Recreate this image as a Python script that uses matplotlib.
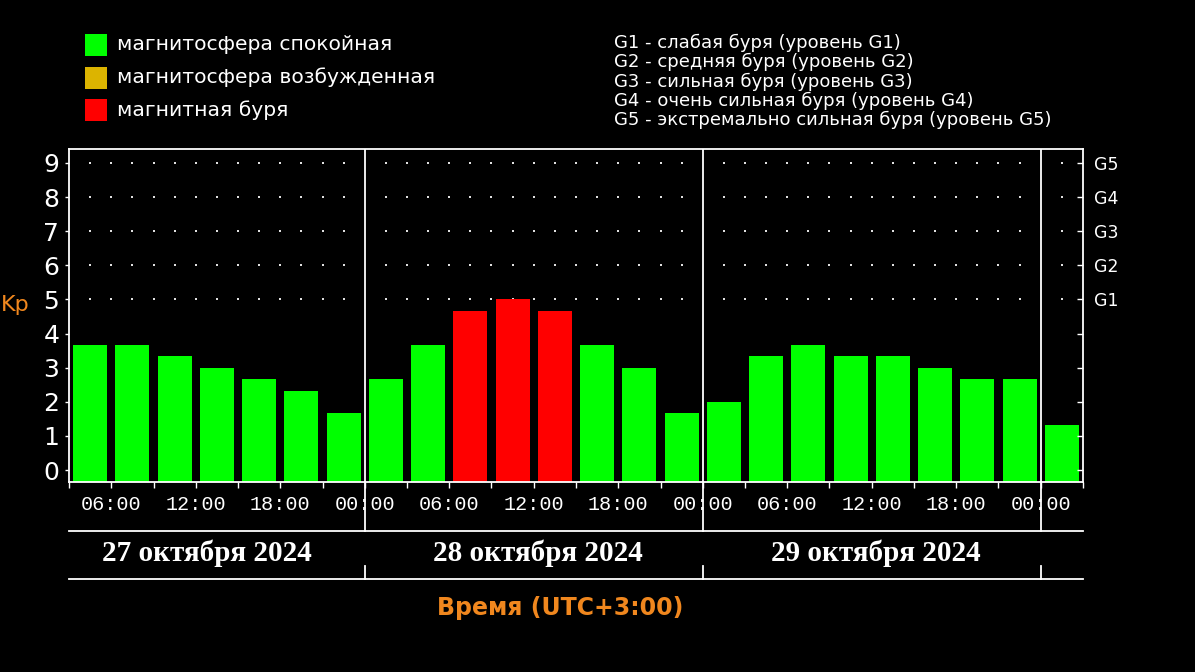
import numpy as np
import matplotlib
matplotlib.use("Agg")
import matplotlib.pyplot as plt
from matplotlib.patches import Rectangle
from matplotlib.lines import Line2D

# Kp index, 3-hour intervals, from 27.10.2024 03:00 (UTC+3)
kp_27 = [3.67, 3.67, 3.33, 3.0, 2.67, 2.33, 1.67]
kp_28 = [2.67, 3.67, 4.67, 5.0, 4.67, 3.67, 3.0, 1.67]
kp_29 = [2.0, 3.33, 3.67, 3.33, 3.33, 3.0, 2.67, 2.67]
kp_30 = [1.33]
kp = kp_27 + kp_28 + kp_29 + kp_30

days = ["27 октября 2024", "28 октября 2024", "29 октября 2024"]
hour_labels = ["06:00", "12:00", "18:00", "00:00"]
g_labels = ["G1", "G2", "G3", "G4", "G5"]
legend_items = ["магнитосфера спокойная", "магнитосфера возбужденная", "магнитная буря"]
legend_colors = ["#00ff00", "#dcb400", "#ff0000"]
g_text = ["G1 - слабая буря (уровень G1)",
          "G2 - средняя буря (уровень G2)",
          "G3 - сильная буря (уровень G3)",
          "G4 - очень сильная буря (уровень G4)",
          "G5 - экстремально сильная буря (уровень G5)"]

W, H = 1195, 672
ORANGE = "#f0871e"
t0 = 3      # first hour shown
t1 = 75     # last hour shown
ymin, ymax = -0.35, 9.41


def fx(px):
    return px / W


def fy(py):
    return 1 - py / H


fig = plt.figure(figsize=(W / 100, H / 100), dpi=100, facecolor="black")
ax = fig.add_axes([fx(69), fy(482), fx(1083) - fx(69), fy(149) - fy(482)])
ax.set_facecolor("black")

x = t0 + 1.5 + 3 * np.arange(len(kp))
colors = [legend_colors[2] if v >= 4.5 else legend_colors[0] for v in kp]
ax.bar(x, np.array(kp) - ymin, bottom=ymin, width=2.4, color=colors, zorder=2)

# dotted grid above the bars
gx = np.arange(t0 + 1.5, t1, 1.5)
gx = gx[gx % 24 != 0]
GX, GY = np.meshgrid(gx, np.arange(5, 10))
ax.scatter(GX.ravel(), GY.ravel(), s=2.2, marker="s", color="#e0e0e0", lw=0, zorder=1)

for d in (24, 48, 72):
    ax.axvline(d, color="white", lw=1.3, zorder=3)

ax.set_xlim(t0, t1)
ax.set_ylim(ymin, ymax)
for s in ax.spines.values():
    s.set_color("white")
    s.set_linewidth(1.3)

ax.set_yticks(range(10))
ax.set_yticklabels([str(i) for i in range(10)])
ax.tick_params(axis="y", colors="white", length=3, width=1, labelsize=18, pad=4)

ticks = list(range(t0, t1 + 1, 3))
ax.set_xticks(ticks)
ax.set_xticklabels([hour_labels[(h // 6 - 1) % 4] if h % 6 == 0 else "" for h in ticks],
                   family="Liberation Mono", fontsize=14.5, color="#e0e0e0")
ax.tick_params(axis="x", colors="white", length=4, width=1, pad=5)
for lab in ax.get_xticklabels():
    lab.set_bbox(dict(facecolor="black", edgecolor="none", pad=0.5))
    lab.set_zorder(5)

ax2 = ax.twinx()
ax2.set_ylim(ymin, ymax)
ax2.set_yticks(range(10))
ax2.set_yticklabels(["", "", "", "", ""] + g_labels)
ax2.tick_params(axis="y", colors="white", direction="in", length=4, width=1,
                labelsize=12.5, pad=8)
for s in ax2.spines.values():
    s.set_visible(False)

# day separators below the axis and the date band
for d in (24, 48, 72):
    px = 69 + (d - t0) * (1083 - 69) / (t1 - t0)
    fig.add_artist(Line2D([fx(px), fx(px)], [fy(482), fy(531)], color="white", lw=1.3, zorder=1))
    fig.add_artist(Line2D([fx(px), fx(px)], [fy(566), fy(579)], color="white", lw=1.3))
for py in (531, 579):
    fig.add_artist(Line2D([fx(69), fx(1083)], [fy(py), fy(py)], color="white", lw=1.3))

for i, day in enumerate(days):
    hx = 12.3 + 24 * i
    if i == 0:
        hx = 12.8
    px = 69 + (hx - t0) * (1083 - 69) / (t1 - t0)
    fig.text(fx(px), fy(553), day, family="Liberation Serif", weight="bold",
             fontsize=21, color="white", ha="center", va="center")

fig.text(fx(560), fy(608), "Время (UTC+3:00)", fontsize=17, weight="bold",
         color=ORANGE, ha="center", va="center")
fig.text(fx(1), fy(305), "Kp", fontsize=16, color=ORANGE, ha="left", va="center")

# colour legend
for i, (lab, c) in enumerate(zip(legend_items, legend_colors)):
    top = 34 + 32.5 * i
    fig.add_artist(Rectangle((fx(85), fy(top + 22)), fx(22), fy(top) - fy(top + 22),
                             facecolor=c, edgecolor="none"))
    fig.text(fx(117), fy(top + 11), lab, fontsize=14.6, color="white",
             ha="left", va="center")

for i, t in enumerate(g_text):
    fig.text(fx(614), fy(43 + 19.3 * i), t, fontsize=13, color="white",
             ha="left", va="center")

fig.savefig("out.png", dpi=100, facecolor="black")
